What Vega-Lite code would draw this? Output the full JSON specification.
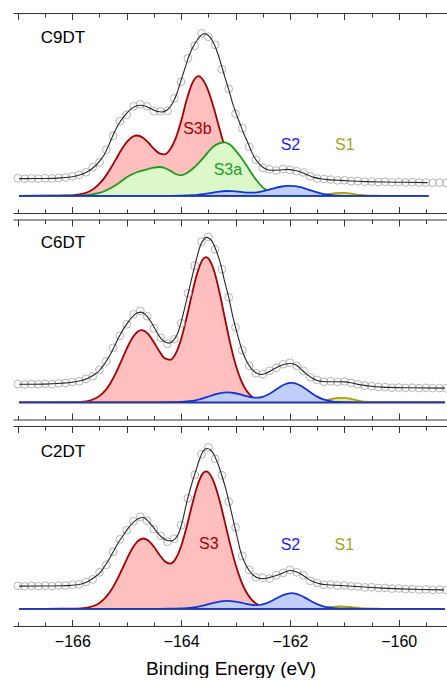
{
"$schema": "https://vega.github.io/schema/vega-lite/v6.json",
"padding": {"left": 12, "top": 12, "right": 0, "bottom": 0},
"bounds": "flush",
"spacing": 6.5,
"config": {
 "view": {"stroke": null},
 "axis": {"domainColor": "#333333", "domainWidth": 1.2, "tickColor": "#333333", "tickWidth": 1, "grid": false, "labelFont": "Liberation Sans", "labelFontSize": 16, "labelColor": "#000000", "titleFont": "Liberation Sans", "titleFontSize": 19, "titleFontWeight": "normal", "titleColor": "#000000"},
 "text": {"font": "Liberation Sans"}
},
"datasets": {
 "c9": [
  {"comp":"S3b","x":-166.98,"y":0},{"comp":"S3b","x":-166.5,"y":0.05},{"comp":"S3b","x":-166.2,"y":0.25},{"comp":"S3b","x":-166.0,"y":0.5},{"comp":"S3b","x":-165.9,"y":1.06},{"comp":"S3b","x":-165.8,"y":2.2},{"comp":"S3b","x":-165.7,"y":4.1},{"comp":"S3b","x":-165.6,"y":7.3},{"comp":"S3b","x":-165.5,"y":12.1},{"comp":"S3b","x":-165.4,"y":18.7},{"comp":"S3b","x":-165.3,"y":27.0},{"comp":"S3b","x":-165.2,"y":36.4},{"comp":"S3b","x":-165.1,"y":45.7},{"comp":"S3b","x":-165.0,"y":53.6},{"comp":"S3b","x":-164.9,"y":58.8},{"comp":"S3b","x":-164.82,"y":60.3},{"comp":"S3b","x":-164.7,"y":58.1},{"comp":"S3b","x":-164.6,"y":53.1},{"comp":"S3b","x":-164.5,"y":47.0},{"comp":"S3b","x":-164.4,"y":42.5},{"comp":"S3b","x":-164.3,"y":41.5},{"comp":"S3b","x":-164.2,"y":46.5},{"comp":"S3b","x":-164.1,"y":57.5},{"comp":"S3b","x":-164.0,"y":74.5},{"comp":"S3b","x":-163.9,"y":95.5},{"comp":"S3b","x":-163.8,"y":112.0},{"comp":"S3b","x":-163.68,"y":119.7},{"comp":"S3b","x":-163.6,"y":116.1},{"comp":"S3b","x":-163.5,"y":105.0},{"comp":"S3b","x":-163.4,"y":88.0},{"comp":"S3b","x":-163.3,"y":68.2},{"comp":"S3b","x":-163.2,"y":48.9},{"comp":"S3b","x":-163.1,"y":32.5},{"comp":"S3b","x":-163.0,"y":20.0},{"comp":"S3b","x":-162.9,"y":11.4},{"comp":"S3b","x":-162.8,"y":6.0},{"comp":"S3b","x":-162.7,"y":2.9},{"comp":"S3b","x":-162.6,"y":1.3},{"comp":"S3b","x":-162.5,"y":0.55},{"comp":"S3b","x":-162.4,"y":0.2},{"comp":"S3b","x":-162.2,"y":0},{"comp":"S3b","x":-159.45,"y":0},
  {"comp":"S3a","x":-166.98,"y":0},{"comp":"S3a","x":-166.0,"y":0.1},{"comp":"S3a","x":-165.8,"y":0.5},{"comp":"S3a","x":-165.7,"y":1.0},{"comp":"S3a","x":-165.6,"y":1.8},{"comp":"S3a","x":-165.5,"y":3.0},{"comp":"S3a","x":-165.4,"y":4.8},{"comp":"S3a","x":-165.3,"y":7.5},{"comp":"S3a","x":-165.2,"y":10.8},{"comp":"S3a","x":-165.1,"y":14.6},{"comp":"S3a","x":-165.0,"y":18.5},{"comp":"S3a","x":-164.9,"y":21.5},{"comp":"S3a","x":-164.8,"y":23.8},{"comp":"S3a","x":-164.7,"y":25.5},{"comp":"S3a","x":-164.6,"y":27.0},{"comp":"S3a","x":-164.5,"y":28.2},{"comp":"S3a","x":-164.4,"y":28.8},{"comp":"S3a","x":-164.3,"y":27.8},{"comp":"S3a","x":-164.2,"y":25.0},{"comp":"S3a","x":-164.1,"y":21.8},{"comp":"S3a","x":-164.0,"y":20.5},{"comp":"S3a","x":-163.9,"y":22.5},{"comp":"S3a","x":-163.8,"y":26.5},{"comp":"S3a","x":-163.7,"y":31.5},{"comp":"S3a","x":-163.6,"y":37.5},{"comp":"S3a","x":-163.5,"y":44.0},{"comp":"S3a","x":-163.4,"y":49.5},{"comp":"S3a","x":-163.3,"y":52.5},{"comp":"S3a","x":-163.2,"y":53.5},{"comp":"S3a","x":-163.1,"y":51.0},{"comp":"S3a","x":-163.0,"y":45.5},{"comp":"S3a","x":-162.9,"y":38.5},{"comp":"S3a","x":-162.8,"y":30.5},{"comp":"S3a","x":-162.7,"y":22.0},{"comp":"S3a","x":-162.6,"y":14.5},{"comp":"S3a","x":-162.5,"y":8.5},{"comp":"S3a","x":-162.4,"y":4.8},{"comp":"S3a","x":-162.3,"y":2.6},{"comp":"S3a","x":-162.2,"y":1.3},{"comp":"S3a","x":-162.1,"y":0.6},{"comp":"S3a","x":-162.0,"y":0.25},{"comp":"S3a","x":-161.8,"y":0},{"comp":"S3a","x":-159.45,"y":0},
  {"comp":"S1","x":-166.98,"y":0},{"comp":"S1","x":-162.8,"y":0},{"comp":"S1","x":-162.7,"y":0.15},{"comp":"S1","x":-162.6,"y":0.36},{"comp":"S1","x":-162.5,"y":0.7},{"comp":"S1","x":-162.4,"y":1.1},{"comp":"S1","x":-162.3,"y":1.42},{"comp":"S1","x":-162.2,"y":1.49},{"comp":"S1","x":-162.1,"y":1.26},{"comp":"S1","x":-162.0,"y":0.87},{"comp":"S1","x":-161.9,"y":0.5},{"comp":"S1","x":-161.8,"y":0.25},{"comp":"S1","x":-161.7,"y":0.14},{"comp":"S1","x":-161.6,"y":0.16},{"comp":"S1","x":-161.5,"y":0.37},{"comp":"S1","x":-161.4,"y":0.85},{"comp":"S1","x":-161.3,"y":1.57},{"comp":"S1","x":-161.2,"y":2.38},{"comp":"S1","x":-161.1,"y":2.92},{"comp":"S1","x":-161.05,"y":3.0},{"comp":"S1","x":-161.0,"y":2.92},{"comp":"S1","x":-160.9,"y":2.38},{"comp":"S1","x":-160.8,"y":1.57},{"comp":"S1","x":-160.7,"y":0.85},{"comp":"S1","x":-160.6,"y":0.37},{"comp":"S1","x":-160.5,"y":0.13},{"comp":"S1","x":-160.4,"y":0.04},{"comp":"S1","x":-160.2,"y":0},{"comp":"S1","x":-159.45,"y":0},
  {"comp":"S2","x":-166.98,"y":0},{"comp":"S2","x":-164.2,"y":0},{"comp":"S2","x":-164.0,"y":0.15},{"comp":"S2","x":-163.9,"y":0.3},{"comp":"S2","x":-163.8,"y":0.6},{"comp":"S2","x":-163.7,"y":1.0},{"comp":"S2","x":-163.6,"y":1.6},{"comp":"S2","x":-163.5,"y":2.4},{"comp":"S2","x":-163.4,"y":3.3},{"comp":"S2","x":-163.3,"y":4.2},{"comp":"S2","x":-163.17,"y":4.8},{"comp":"S2","x":-163.05,"y":4.6},{"comp":"S2","x":-162.95,"y":4.1},{"comp":"S2","x":-162.85,"y":3.5},{"comp":"S2","x":-162.75,"y":3.1},{"comp":"S2","x":-162.65,"y":3.2},{"comp":"S2","x":-162.55,"y":3.9},{"comp":"S2","x":-162.45,"y":5.1},{"comp":"S2","x":-162.35,"y":6.6},{"comp":"S2","x":-162.25,"y":8.1},{"comp":"S2","x":-162.15,"y":9.3},{"comp":"S2","x":-162.05,"y":9.9},{"comp":"S2","x":-161.99,"y":10.0},{"comp":"S2","x":-161.9,"y":9.7},{"comp":"S2","x":-161.8,"y":8.6},{"comp":"S2","x":-161.7,"y":7.0},{"comp":"S2","x":-161.6,"y":5.1},{"comp":"S2","x":-161.5,"y":3.4},{"comp":"S2","x":-161.4,"y":2.0},{"comp":"S2","x":-161.3,"y":1.1},{"comp":"S2","x":-161.2,"y":0.5},{"comp":"S2","x":-161.1,"y":0.2},{"comp":"S2","x":-160.9,"y":0},{"comp":"S2","x":-159.45,"y":0}
 ],
 "e9": [
  {"x":-166.98,"y":17.2},{"x":-166.5,"y":17.3},{"x":-166.2,"y":17.9},{"x":-166.0,"y":19.0},{"x":-165.85,"y":21.0},{"x":-165.7,"y":24.8},{"x":-165.6,"y":28.8},{"x":-165.5,"y":34.5},{"x":-165.42,"y":40.5},{"x":-165.33,"y":50.5},{"x":-165.24,"y":62.0},{"x":-165.15,"y":71.5},{"x":-165.05,"y":79.5},{"x":-164.95,"y":85.5},{"x":-164.85,"y":89.3},{"x":-164.74,"y":90.5},{"x":-164.65,"y":89.5},{"x":-164.56,"y":87.2},{"x":-164.45,"y":84.6},{"x":-164.35,"y":83.8},{"x":-164.25,"y":86.0},{"x":-164.16,"y":92.2},{"x":-164.08,"y":102.0},{"x":-164.01,"y":114.0},{"x":-163.93,"y":127.5},{"x":-163.86,"y":139.0},{"x":-163.78,"y":149.0},{"x":-163.7,"y":156.0},{"x":-163.64,"y":160.2},{"x":-163.58,"y":162.0},{"x":-163.51,"y":160.8},{"x":-163.43,"y":155.5},{"x":-163.35,"y":146.0},{"x":-163.27,"y":132.5},{"x":-163.2,"y":119.5},{"x":-163.12,"y":105.5},{"x":-163.05,"y":92.0},{"x":-162.97,"y":79.5},{"x":-162.91,"y":71.0},{"x":-162.85,"y":62.5},{"x":-162.78,"y":54.0},{"x":-162.72,"y":46.0},{"x":-162.66,"y":39.0},{"x":-162.58,"y":33.0},{"x":-162.51,"y":29.0},{"x":-162.43,"y":26.6},{"x":-162.35,"y":25.6},{"x":-162.2,"y":25.8},{"x":-162.05,"y":26.4},{"x":-161.93,"y":25.5},{"x":-161.8,"y":23.8},{"x":-161.68,"y":21.0},{"x":-161.56,"y":18.4},{"x":-161.43,"y":17.0},{"x":-161.31,"y":16.2},{"x":-161.1,"y":15.5},{"x":-160.88,"y":14.8},{"x":-160.6,"y":14.2},{"x":-160.27,"y":13.8},{"x":-159.9,"y":13.5},{"x":-159.47,"y":13.2}
 ],
 "p9": [
  {"x":-167.0,"y":17.5},{"x":-166.875,"y":17.0},{"x":-166.75,"y":17.4},{"x":-166.625,"y":17.1},{"x":-166.5,"y":17.6},{"x":-166.375,"y":17.3},{"x":-166.25,"y":17.9},{"x":-166.125,"y":18.2},{"x":-166.0,"y":19.4},{"x":-165.875,"y":21.0},{"x":-165.75,"y":23.5},{"x":-165.625,"y":28.6},{"x":-165.5,"y":33.5},{"x":-165.375,"y":46.0},{"x":-165.25,"y":60.0},{"x":-165.125,"y":74.5},{"x":-165.0,"y":81.0},{"x":-164.875,"y":89.5},{"x":-164.75,"y":91.5},{"x":-164.625,"y":89.5},{"x":-164.5,"y":84.5},{"x":-164.375,"y":84.5},{"x":-164.25,"y":85.0},{"x":-164.125,"y":97.5},{"x":-164.0,"y":114.0},{"x":-163.875,"y":137.5},{"x":-163.75,"y":150.0},{"x":-163.625,"y":162.5},{"x":-163.5,"y":159.0},{"x":-163.375,"y":151.0},{"x":-163.25,"y":126.5},{"x":-163.125,"y":107.0},{"x":-163.0,"y":82.0},{"x":-162.875,"y":67.5},{"x":-162.75,"y":49.0},{"x":-162.625,"y":36.0},{"x":-162.5,"y":28.0},{"x":-162.375,"y":26.5},{"x":-162.25,"y":25.3},{"x":-162.125,"y":26.8},{"x":-162.0,"y":26.0},{"x":-161.875,"y":24.6},{"x":-161.75,"y":23.3},{"x":-161.625,"y":19.5},{"x":-161.5,"y":17.3},{"x":-161.375,"y":16.8},{"x":-161.25,"y":16.2},{"x":-161.125,"y":15.4},{"x":-161.0,"y":15.5},{"x":-160.875,"y":14.6},{"x":-160.75,"y":14.7},{"x":-160.625,"y":14.1},{"x":-160.5,"y":14.3},{"x":-160.375,"y":13.7},{"x":-160.25,"y":13.9},{"x":-160.125,"y":13.5},{"x":-160.0,"y":13.7},{"x":-159.875,"y":13.4},{"x":-159.75,"y":13.6},{"x":-159.625,"y":13.2},{"x":-159.5,"y":13.3},{"x":-159.375,"y":13.0},{"x":-159.25,"y":13.2},{"x":-159.125,"y":12.9}
 ],
 "c6": [
  {"comp":"S3","x":-166.98,"y":0},{"comp":"S3","x":-166.5,"y":0.01},{"comp":"S3","x":-166.2,"y":0.03},{"comp":"S3","x":-166.0,"y":0.1},{"comp":"S3","x":-165.9,"y":0.27},{"comp":"S3","x":-165.8,"y":0.67},{"comp":"S3","x":-165.7,"y":1.55},{"comp":"S3","x":-165.6,"y":3.3},{"comp":"S3","x":-165.5,"y":6.4},{"comp":"S3","x":-165.4,"y":11.5},{"comp":"S3","x":-165.3,"y":19.1},{"comp":"S3","x":-165.2,"y":29.2},{"comp":"S3","x":-165.1,"y":41.2},{"comp":"S3","x":-165.0,"y":53.5},{"comp":"S3","x":-164.9,"y":64.0},{"comp":"S3","x":-164.8,"y":70.6},{"comp":"S3","x":-164.73,"y":72.2},{"comp":"S3","x":-164.6,"y":68.0},{"comp":"S3","x":-164.5,"y":60.1},{"comp":"S3","x":-164.4,"y":51.1},{"comp":"S3","x":-164.3,"y":44.0},{"comp":"S3","x":-164.2,"y":42.5},{"comp":"S3","x":-164.1,"y":48.7},{"comp":"S3","x":-164.0,"y":63.1},{"comp":"S3","x":-163.9,"y":84.3},{"comp":"S3","x":-163.8,"y":108.4},{"comp":"S3","x":-163.7,"y":129.8},{"comp":"S3","x":-163.6,"y":143.0},{"comp":"S3","x":-163.54,"y":145.2},{"comp":"S3","x":-163.5,"y":143.9},{"comp":"S3","x":-163.4,"y":132.5},{"comp":"S3","x":-163.3,"y":111.3},{"comp":"S3","x":-163.2,"y":85.3},{"comp":"S3","x":-163.1,"y":59.6},{"comp":"S3","x":-163.0,"y":38.0},{"comp":"S3","x":-162.9,"y":22.1},{"comp":"S3","x":-162.8,"y":11.7},{"comp":"S3","x":-162.7,"y":5.7},{"comp":"S3","x":-162.6,"y":2.5},{"comp":"S3","x":-162.5,"y":1.0},{"comp":"S3","x":-162.4,"y":0.37},{"comp":"S3","x":-162.2,"y":0.03},{"comp":"S3","x":-162.0,"y":0},{"comp":"S3","x":-159.15,"y":0},
  {"comp":"S1","x":-166.98,"y":0},{"comp":"S1","x":-162.8,"y":0},{"comp":"S1","x":-162.7,"y":0.22},{"comp":"S1","x":-162.6,"y":0.53},{"comp":"S1","x":-162.5,"y":1.04},{"comp":"S1","x":-162.4,"y":1.63},{"comp":"S1","x":-162.3,"y":2.09},{"comp":"S1","x":-162.2,"y":2.18},{"comp":"S1","x":-162.1,"y":1.85},{"comp":"S1","x":-162.0,"y":1.27},{"comp":"S1","x":-161.9,"y":0.71},{"comp":"S1","x":-161.8,"y":0.34},{"comp":"S1","x":-161.7,"y":0.18},{"comp":"S1","x":-161.6,"y":0.24},{"comp":"S1","x":-161.5,"y":0.56},{"comp":"S1","x":-161.4,"y":1.27},{"comp":"S1","x":-161.3,"y":2.36},{"comp":"S1","x":-161.2,"y":3.57},{"comp":"S1","x":-161.1,"y":4.39},{"comp":"S1","x":-161.05,"y":4.5},{"comp":"S1","x":-161.0,"y":4.39},{"comp":"S1","x":-160.9,"y":3.57},{"comp":"S1","x":-160.8,"y":2.36},{"comp":"S1","x":-160.7,"y":1.27},{"comp":"S1","x":-160.6,"y":0.56},{"comp":"S1","x":-160.5,"y":0.2},{"comp":"S1","x":-160.4,"y":0.06},{"comp":"S1","x":-160.2,"y":0},{"comp":"S1","x":-159.15,"y":0},
  {"comp":"S2","x":-166.98,"y":0},{"comp":"S2","x":-164.4,"y":0},{"comp":"S2","x":-164.2,"y":0.06},{"comp":"S2","x":-164.0,"y":0.4},{"comp":"S2","x":-163.9,"y":0.8},{"comp":"S2","x":-163.8,"y":1.4},{"comp":"S2","x":-163.7,"y":2.5},{"comp":"S2","x":-163.6,"y":3.9},{"comp":"S2","x":-163.5,"y":5.7},{"comp":"S2","x":-163.4,"y":7.5},{"comp":"S2","x":-163.3,"y":9.0},{"comp":"S2","x":-163.15,"y":10.0},{"comp":"S2","x":-163.0,"y":9.05},{"comp":"S2","x":-162.9,"y":7.7},{"comp":"S2","x":-162.8,"y":6.1},{"comp":"S2","x":-162.7,"y":4.9},{"comp":"S2","x":-162.6,"y":4.65},{"comp":"S2","x":-162.5,"y":5.5},{"comp":"S2","x":-162.4,"y":7.8},{"comp":"S2","x":-162.3,"y":11.0},{"comp":"S2","x":-162.2,"y":14.7},{"comp":"S2","x":-162.1,"y":17.8},{"comp":"S2","x":-162.0,"y":19.4},{"comp":"S2","x":-161.97,"y":19.5},{"comp":"S2","x":-161.9,"y":19.0},{"comp":"S2","x":-161.8,"y":16.6},{"comp":"S2","x":-161.7,"y":13.0},{"comp":"S2","x":-161.6,"y":9.1},{"comp":"S2","x":-161.5,"y":5.7},{"comp":"S2","x":-161.4,"y":3.2},{"comp":"S2","x":-161.3,"y":1.6},{"comp":"S2","x":-161.2,"y":0.7},{"comp":"S2","x":-161.1,"y":0.3},{"comp":"S2","x":-160.9,"y":0.04},{"comp":"S2","x":-160.7,"y":0},{"comp":"S2","x":-159.15,"y":0}
 ],
 "e6": [
  {"x":-166.98,"y":18.0},{"x":-166.5,"y":18.2},{"x":-166.2,"y":19.0},{"x":-166.0,"y":20.0},{"x":-165.85,"y":21.5},{"x":-165.72,"y":23.8},{"x":-165.6,"y":27.5},{"x":-165.5,"y":31.8},{"x":-165.42,"y":37.5},{"x":-165.33,"y":45.0},{"x":-165.24,"y":54.2},{"x":-165.15,"y":64.5},{"x":-165.05,"y":74.2},{"x":-164.95,"y":82.0},{"x":-164.87,"y":87.0},{"x":-164.8,"y":89.5},{"x":-164.73,"y":90.2},{"x":-164.65,"y":87.5},{"x":-164.56,"y":81.0},{"x":-164.47,"y":72.5},{"x":-164.38,"y":64.5},{"x":-164.3,"y":60.5},{"x":-164.22,"y":59.2},{"x":-164.15,"y":61.5},{"x":-164.07,"y":68.0},{"x":-164.0,"y":80.0},{"x":-163.92,"y":97.5},{"x":-163.84,"y":116.0},{"x":-163.76,"y":134.0},{"x":-163.7,"y":147.0},{"x":-163.64,"y":157.5},{"x":-163.59,"y":162.5},{"x":-163.54,"y":164.9},{"x":-163.48,"y":163.8},{"x":-163.43,"y":160.9},{"x":-163.35,"y":151.0},{"x":-163.27,"y":137.5},{"x":-163.2,"y":121.0},{"x":-163.12,"y":104.0},{"x":-163.05,"y":86.0},{"x":-162.97,"y":69.0},{"x":-162.88,"y":52.0},{"x":-162.8,"y":41.5},{"x":-162.72,"y":34.5},{"x":-162.63,"y":29.8},{"x":-162.53,"y":27.8},{"x":-162.43,"y":29.3},{"x":-162.32,"y":32.5},{"x":-162.2,"y":36.0},{"x":-162.08,"y":38.3},{"x":-161.98,"y":38.8},{"x":-161.88,"y":37.0},{"x":-161.8,"y":33.5},{"x":-161.71,"y":28.9},{"x":-161.6,"y":24.5},{"x":-161.5,"y":21.8},{"x":-161.4,"y":20.8},{"x":-161.25,"y":20.5},{"x":-161.1,"y":20.6},{"x":-161.0,"y":20.4},{"x":-160.88,"y":19.5},{"x":-160.77,"y":18.2},{"x":-160.66,"y":17.2},{"x":-160.5,"y":16.0},{"x":-160.3,"y":15.2},{"x":-160.17,"y":14.9},{"x":-159.8,"y":14.5},{"x":-159.15,"y":14.2}
 ],
 "p6": [
  {"x":-167.0,"y":18.2},{"x":-166.875,"y":17.8},{"x":-166.75,"y":18.3},{"x":-166.625,"y":18.0},{"x":-166.5,"y":18.5},{"x":-166.375,"y":18.2},{"x":-166.25,"y":19.0},{"x":-166.125,"y":19.3},{"x":-166.0,"y":20.3},{"x":-165.875,"y":21.0},{"x":-165.75,"y":23.5},{"x":-165.625,"y":26.0},{"x":-165.5,"y":32.5},{"x":-165.375,"y":41.0},{"x":-165.25,"y":54.5},{"x":-165.125,"y":66.5},{"x":-165.0,"y":78.0},{"x":-164.875,"y":88.0},{"x":-164.75,"y":91.5},{"x":-164.625,"y":86.0},{"x":-164.5,"y":74.0},{"x":-164.375,"y":64.5},{"x":-164.25,"y":58.5},{"x":-164.125,"y":63.0},{"x":-164.0,"y":79.0},{"x":-163.875,"y":109.0},{"x":-163.75,"y":136.5},{"x":-163.625,"y":160.5},{"x":-163.5,"y":165.5},{"x":-163.375,"y":153.0},{"x":-163.25,"y":133.0},{"x":-163.125,"y":105.0},{"x":-163.0,"y":75.0},{"x":-162.875,"y":52.0},{"x":-162.75,"y":36.5},{"x":-162.625,"y":29.0},{"x":-162.5,"y":28.0},{"x":-162.375,"y":31.5},{"x":-162.25,"y":34.5},{"x":-162.125,"y":38.0},{"x":-162.0,"y":39.5},{"x":-161.875,"y":36.5},{"x":-161.75,"y":31.5},{"x":-161.625,"y":25.0},{"x":-161.5,"y":22.3},{"x":-161.375,"y":20.5},{"x":-161.25,"y":20.9},{"x":-161.125,"y":20.4},{"x":-161.0,"y":20.8},{"x":-160.875,"y":19.3},{"x":-160.75,"y":18.0},{"x":-160.625,"y":16.6},{"x":-160.5,"y":16.2},{"x":-160.375,"y":15.3},{"x":-160.25,"y":15.2},{"x":-160.125,"y":14.6},{"x":-160.0,"y":14.8},{"x":-159.875,"y":14.4},{"x":-159.75,"y":14.6},{"x":-159.625,"y":14.2},{"x":-159.5,"y":14.5},{"x":-159.375,"y":14.1},{"x":-159.25,"y":14.3},{"x":-159.125,"y":14.0}
 ],
 "c2": [
  {"comp":"S3","x":-166.98,"y":0},{"comp":"S3","x":-166.5,"y":0.01},{"comp":"S3","x":-166.2,"y":0.03},{"comp":"S3","x":-166.0,"y":0.1},{"comp":"S3","x":-165.9,"y":0.27},{"comp":"S3","x":-165.8,"y":0.66},{"comp":"S3","x":-165.7,"y":1.48},{"comp":"S3","x":-165.6,"y":3.07},{"comp":"S3","x":-165.5,"y":5.9},{"comp":"S3","x":-165.4,"y":10.6},{"comp":"S3","x":-165.3,"y":17.5},{"comp":"S3","x":-165.2,"y":26.7},{"comp":"S3","x":-165.1,"y":37.8},{"comp":"S3","x":-165.0,"y":49.5},{"comp":"S3","x":-164.9,"y":60.0},{"comp":"S3","x":-164.8,"y":67.4},{"comp":"S3","x":-164.7,"y":70.3},{"comp":"S3","x":-164.6,"y":68.1},{"comp":"S3","x":-164.5,"y":62.0},{"comp":"S3","x":-164.4,"y":54.1},{"comp":"S3","x":-164.3,"y":47.5},{"comp":"S3","x":-164.2,"y":45.2},{"comp":"S3","x":-164.1,"y":50.0},{"comp":"S3","x":-164.0,"y":62.5},{"comp":"S3","x":-163.9,"y":81.5},{"comp":"S3","x":-163.8,"y":103.5},{"comp":"S3","x":-163.7,"y":123.3},{"comp":"S3","x":-163.6,"y":135.5},{"comp":"S3","x":-163.54,"y":137.4},{"comp":"S3","x":-163.5,"y":136.4},{"comp":"S3","x":-163.4,"y":127.0},{"comp":"S3","x":-163.3,"y":109.7},{"comp":"S3","x":-163.2,"y":87.7},{"comp":"S3","x":-163.1,"y":64.9},{"comp":"S3","x":-163.0,"y":44.5},{"comp":"S3","x":-162.9,"y":28.2},{"comp":"S3","x":-162.8,"y":16.6},{"comp":"S3","x":-162.7,"y":9.0},{"comp":"S3","x":-162.6,"y":4.5},{"comp":"S3","x":-162.5,"y":2.1},{"comp":"S3","x":-162.4,"y":0.9},{"comp":"S3","x":-162.3,"y":0.36},{"comp":"S3","x":-162.1,"y":0.05},{"comp":"S3","x":-161.9,"y":0},{"comp":"S3","x":-159.15,"y":0},
  {"comp":"S1","x":-166.98,"y":0},{"comp":"S1","x":-162.9,"y":0},{"comp":"S1","x":-162.8,"y":0.05},{"comp":"S1","x":-162.7,"y":0.2},{"comp":"S1","x":-162.6,"y":0.45},{"comp":"S1","x":-162.5,"y":0.73},{"comp":"S1","x":-162.4,"y":0.98},{"comp":"S1","x":-162.3,"y":1.14},{"comp":"S1","x":-162.2,"y":1.12},{"comp":"S1","x":-162.1,"y":0.94},{"comp":"S1","x":-162.0,"y":0.67},{"comp":"S1","x":-161.9,"y":0.4},{"comp":"S1","x":-161.8,"y":0.22},{"comp":"S1","x":-161.7,"y":0.12},{"comp":"S1","x":-161.6,"y":0.17},{"comp":"S1","x":-161.5,"y":0.4},{"comp":"S1","x":-161.4,"y":0.82},{"comp":"S1","x":-161.3,"y":1.4},{"comp":"S1","x":-161.2,"y":1.95},{"comp":"S1","x":-161.08,"y":2.3},{"comp":"S1","x":-161.0,"y":2.2},{"comp":"S1","x":-160.9,"y":1.8},{"comp":"S1","x":-160.8,"y":1.25},{"comp":"S1","x":-160.7,"y":0.72},{"comp":"S1","x":-160.6,"y":0.36},{"comp":"S1","x":-160.5,"y":0.15},{"comp":"S1","x":-160.4,"y":0.05},{"comp":"S1","x":-160.2,"y":0},{"comp":"S1","x":-159.15,"y":0},
  {"comp":"S2","x":-166.98,"y":0},{"comp":"S2","x":-164.4,"y":0},{"comp":"S2","x":-164.2,"y":0.05},{"comp":"S2","x":-164.0,"y":0.3},{"comp":"S2","x":-163.9,"y":0.6},{"comp":"S2","x":-163.8,"y":1.1},{"comp":"S2","x":-163.7,"y":2.0},{"comp":"S2","x":-163.6,"y":3.1},{"comp":"S2","x":-163.5,"y":4.6},{"comp":"S2","x":-163.4,"y":6.0},{"comp":"S2","x":-163.3,"y":7.2},{"comp":"S2","x":-163.15,"y":8.0},{"comp":"S2","x":-163.0,"y":7.2},{"comp":"S2","x":-162.9,"y":6.2},{"comp":"S2","x":-162.8,"y":4.9},{"comp":"S2","x":-162.7,"y":3.9},{"comp":"S2","x":-162.6,"y":3.7},{"comp":"S2","x":-162.5,"y":4.4},{"comp":"S2","x":-162.4,"y":6.2},{"comp":"S2","x":-162.3,"y":8.8},{"comp":"S2","x":-162.2,"y":11.8},{"comp":"S2","x":-162.1,"y":14.2},{"comp":"S2","x":-162.0,"y":15.5},{"comp":"S2","x":-161.97,"y":15.6},{"comp":"S2","x":-161.9,"y":15.2},{"comp":"S2","x":-161.8,"y":13.3},{"comp":"S2","x":-161.7,"y":10.4},{"comp":"S2","x":-161.6,"y":7.3},{"comp":"S2","x":-161.5,"y":4.6},{"comp":"S2","x":-161.4,"y":2.6},{"comp":"S2","x":-161.3,"y":1.3},{"comp":"S2","x":-161.2,"y":0.6},{"comp":"S2","x":-161.1,"y":0.24},{"comp":"S2","x":-160.9,"y":0.03},{"comp":"S2","x":-160.7,"y":0},{"comp":"S2","x":-159.15,"y":0}
 ],
 "e2": [
  {"x":-166.98,"y":22.7},{"x":-166.5,"y":22.8},{"x":-166.2,"y":23.0},{"x":-166.0,"y":23.6},{"x":-165.85,"y":24.6},{"x":-165.72,"y":27.0},{"x":-165.6,"y":31.3},{"x":-165.5,"y":35.5},{"x":-165.42,"y":41.3},{"x":-165.33,"y":49.0},{"x":-165.24,"y":57.9},{"x":-165.15,"y":66.5},{"x":-165.05,"y":74.6},{"x":-164.96,"y":81.5},{"x":-164.87,"y":86.9},{"x":-164.78,"y":90.3},{"x":-164.7,"y":91.3},{"x":-164.62,"y":88.5},{"x":-164.53,"y":82.9},{"x":-164.44,"y":76.5},{"x":-164.35,"y":71.3},{"x":-164.27,"y":68.5},{"x":-164.19,"y":67.9},{"x":-164.11,"y":70.0},{"x":-164.04,"y":76.0},{"x":-163.96,"y":91.0},{"x":-163.89,"y":107.9},{"x":-163.81,"y":124.0},{"x":-163.73,"y":137.9},{"x":-163.67,"y":148.0},{"x":-163.61,"y":156.3},{"x":-163.56,"y":159.5},{"x":-163.52,"y":160.3},{"x":-163.46,"y":158.8},{"x":-163.4,"y":154.6},{"x":-163.32,"y":144.5},{"x":-163.24,"y":131.3},{"x":-163.16,"y":116.0},{"x":-163.09,"y":100.0},{"x":-163.03,"y":86.0},{"x":-162.97,"y":72.0},{"x":-162.91,"y":58.0},{"x":-162.83,"y":46.0},{"x":-162.75,"y":38.3},{"x":-162.66,"y":33.0},{"x":-162.57,"y":30.6},{"x":-162.5,"y":30.2},{"x":-162.42,"y":30.6},{"x":-162.3,"y":32.5},{"x":-162.17,"y":34.9},{"x":-162.08,"y":37.0},{"x":-161.99,"y":38.3},{"x":-161.9,"y":37.3},{"x":-161.8,"y":34.9},{"x":-161.71,"y":31.5},{"x":-161.62,"y":28.3},{"x":-161.53,"y":26.2},{"x":-161.44,"y":24.9},{"x":-161.3,"y":24.0},{"x":-161.15,"y":23.5},{"x":-161.0,"y":23.1},{"x":-160.8,"y":22.4},{"x":-160.58,"y":21.6},{"x":-160.3,"y":20.7},{"x":-159.97,"y":19.9},{"x":-159.6,"y":19.3},{"x":-159.17,"y":18.9}
 ],
 "p2": [
  {"x":-167.0,"y":22.9},{"x":-166.875,"y":22.5},{"x":-166.75,"y":23.0},{"x":-166.625,"y":22.6},{"x":-166.5,"y":23.1},{"x":-166.375,"y":22.7},{"x":-166.25,"y":23.3},{"x":-166.125,"y":23.2},{"x":-166.0,"y":24.0},{"x":-165.875,"y":24.3},{"x":-165.75,"y":26.8},{"x":-165.625,"y":29.5},{"x":-165.5,"y":36.5},{"x":-165.375,"y":44.0},{"x":-165.25,"y":57.0},{"x":-165.125,"y":69.5},{"x":-165.0,"y":78.5},{"x":-164.875,"y":87.5},{"x":-164.75,"y":92.0},{"x":-164.625,"y":88.0},{"x":-164.5,"y":79.5},{"x":-164.375,"y":73.0},{"x":-164.25,"y":67.0},{"x":-164.125,"y":70.0},{"x":-164.0,"y":83.5},{"x":-163.875,"y":110.5},{"x":-163.75,"y":134.0},{"x":-163.625,"y":154.5},{"x":-163.5,"y":161.5},{"x":-163.375,"y":150.0},{"x":-163.25,"y":133.5},{"x":-163.125,"y":107.0},{"x":-163.0,"y":81.5},{"x":-162.875,"y":53.0},{"x":-162.75,"y":39.0},{"x":-162.625,"y":31.5},{"x":-162.5,"y":31.0},{"x":-162.375,"y":30.2},{"x":-162.25,"y":33.5},{"x":-162.125,"y":36.0},{"x":-162.0,"y":38.8},{"x":-161.875,"y":36.5},{"x":-161.75,"y":33.5},{"x":-161.625,"y":28.0},{"x":-161.5,"y":25.8},{"x":-161.375,"y":24.0},{"x":-161.25,"y":24.2},{"x":-161.125,"y":23.2},{"x":-161.0,"y":23.4},{"x":-160.875,"y":22.5},{"x":-160.75,"y":22.3},{"x":-160.625,"y":21.4},{"x":-160.5,"y":21.6},{"x":-160.375,"y":20.8},{"x":-160.25,"y":20.9},{"x":-160.125,"y":20.2},{"x":-160.0,"y":20.3},{"x":-159.875,"y":19.6},{"x":-159.75,"y":19.8},{"x":-159.625,"y":19.2},{"x":-159.5,"y":19.4},{"x":-159.375,"y":18.9},{"x":-159.25,"y":19.2},{"x":-159.125,"y":18.8}
 ],
 "lab": [
  {"panel":"C9DT","comp":"name","text":"C9DT","x":-166.58,"y":157.5},
  {"panel":"C9DT","comp":"S3b","text":"S3b","x":-163.7,"y":67.2},
  {"panel":"C9DT","comp":"S3a","text":"S3a","x":-163.14,"y":26.2},
  {"panel":"C9DT","comp":"S2","text":"S2","x":-161.99,"y":50.5},
  {"panel":"C9DT","comp":"S1","text":"S1","x":-160.99,"y":50.5},
  {"panel":"C6DT","comp":"name","text":"C6DT","x":-166.58,"y":158.9},
  {"panel":"C2DT","comp":"name","text":"C2DT","x":-166.58,"y":156.6},
  {"panel":"C2DT","comp":"S3","text":"S3","x":-163.49,"y":64.6},
  {"panel":"C2DT","comp":"S2","text":"S2","x":-161.99,"y":63.9},
  {"panel":"C2DT","comp":"S1","text":"S1","x":-161.0,"y":63.9}
 ]
},
"vconcat": [
 {
  "width": 435, "height": 200,
  "resolve": {"axis": {"x": "independent"}},
  "layer": [
   {"data": {"name": "c9"}, "transform": [{"filter": "datum.comp === 'S3b'"}],
    "mark": {"type": "area", "interpolate": "monotone", "strokeWidth": 1.8},
    "encoding": {
     "x": {"field": "x", "type": "quantitative", "scale": {"domain": [-167.09, -159.094], "nice": false, "zero": false}, "axis": {"orient": "bottom", "values": [-166, -164, -162, -160], "tickSize": -6.5, "labels": false, "title": null, "domain": true}},
     "y": {"field": "y", "type": "quantitative", "stack": null, "scale": {"domain": [-17.2, 182.8], "nice": false, "zero": false}, "axis": {"orient": "left", "domain": true, "ticks": false, "labels": false, "title": null}},
     "y2": {"datum": 0},
     "fill": {"field": "comp", "type": "nominal", "scale": {"domain": ["S3b","S3","S3a","S2","S1"], "range": ["#FFBFBF","#FFBFBF","#DCF8C8","#C2CEFA","#E9E5A6"]}, "legend": null},
     "stroke": {"field": "comp", "type": "nominal", "scale": {"domain": ["S3b","S3","S3a","S2","S1"], "range": ["#A40000","#A40000","#1E9A1E","#1436CC","#A8A000"]}, "legend": null}
    }},
   {"data": {"name": "c9"}, "transform": [{"filter": "datum.comp === 'S3a'"}],
    "mark": {"type": "area", "interpolate": "monotone", "strokeWidth": 1.8},
    "encoding": {
     "x": {"field": "x", "type": "quantitative", "scale": {"domain": [-167.09, -159.094], "nice": false, "zero": false}, "axis": {"orient": "bottom", "values": [-167,-166.5,-166,-165.5,-165,-164.5,-164,-163.5,-163,-162.5,-162,-161.5,-161,-160.5,-160,-159.5], "tickSize": -4, "labels": false, "title": null, "domain": false}},
     "y": {"field": "y", "type": "quantitative", "stack": null, "scale": {"domain": [-17.2, 182.8], "nice": false, "zero": false}, "axis": null},
     "y2": {"datum": 0},
     "fill": {"field": "comp", "type": "nominal", "scale": {"domain": ["S3b","S3","S3a","S2","S1"], "range": ["#FFBFBF","#FFBFBF","#DCF8C8","#C2CEFA","#E9E5A6"]}, "legend": null},
     "stroke": {"field": "comp", "type": "nominal", "scale": {"domain": ["S3b","S3","S3a","S2","S1"], "range": ["#A40000","#A40000","#1E9A1E","#1436CC","#A8A000"]}, "legend": null}
    }},
   {"data": {"name": "c9"}, "transform": [{"filter": "datum.comp === 'S1'"}],
    "mark": {"type": "area", "interpolate": "monotone", "strokeWidth": 1.8},
    "encoding": {
     "x": {"field": "x", "type": "quantitative", "scale": {"domain": [-167.09, -159.094], "nice": false, "zero": false}, "axis": {"orient": "top", "values": [-167,-166.5,-166,-165.5,-165,-164.5,-164,-163.5,-163,-162.5,-162,-161.5,-161,-160.5,-160,-159.5], "tickSize": -4, "labels": false, "title": null, "domain": false}},
     "y": {"field": "y", "type": "quantitative", "stack": null, "scale": {"domain": [-17.2, 182.8], "nice": false, "zero": false}, "axis": null},
     "y2": {"datum": 0},
     "fill": {"field": "comp", "type": "nominal", "scale": {"domain": ["S3b","S3","S3a","S2","S1"], "range": ["#FFBFBF","#FFBFBF","#DCF8C8","#C2CEFA","#E9E5A6"]}, "legend": null},
     "stroke": {"field": "comp", "type": "nominal", "scale": {"domain": ["S3b","S3","S3a","S2","S1"], "range": ["#A40000","#A40000","#1E9A1E","#1436CC","#A8A000"]}, "legend": null}
    }},
   {"data": {"name": "c9"}, "transform": [{"filter": "datum.comp === 'S2'"}],
    "mark": {"type": "area", "interpolate": "monotone", "strokeWidth": 1.8},
    "encoding": {
     "x": {"field": "x", "type": "quantitative", "scale": {"domain": [-167.09, -159.094], "nice": false, "zero": false}, "axis": {"orient": "top", "values": [-167,-166,-165,-164,-163,-162,-161,-160], "tickSize": -6.5, "labels": false, "title": null, "domain": true}},
     "y": {"field": "y", "type": "quantitative", "stack": null, "scale": {"domain": [-17.2, 182.8], "nice": false, "zero": false}, "axis": null},
     "y2": {"datum": 0},
     "fill": {"field": "comp", "type": "nominal", "scale": {"domain": ["S3b","S3","S3a","S2","S1"], "range": ["#FFBFBF","#FFBFBF","#DCF8C8","#C2CEFA","#E9E5A6"]}, "legend": null},
     "stroke": {"field": "comp", "type": "nominal", "scale": {"domain": ["S3b","S3","S3a","S2","S1"], "range": ["#A40000","#A40000","#1E9A1E","#1436CC","#A8A000"]}, "legend": null}
    }},
   {"data": {"name": "p9"},
    "mark": {"type": "point", "shape": "circle", "filled": false, "size": 60, "color": "#ABABAB", "strokeWidth": 0.9, "opacity": 1},
    "encoding": {
     "x": {"field": "x", "type": "quantitative", "scale": {"domain": [-167.09, -159.094], "nice": false, "zero": false}, "axis": null},
     "y": {"field": "y", "type": "quantitative", "scale": {"domain": [-17.2, 182.8], "nice": false, "zero": false}, "axis": null}
    }},
   {"data": {"name": "e9"},
    "mark": {"type": "line", "interpolate": "monotone", "color": "#262626", "strokeWidth": 1.1},
    "encoding": {
     "x": {"field": "x", "type": "quantitative", "scale": {"domain": [-167.09, -159.094], "nice": false, "zero": false}, "axis": null},
     "y": {"field": "y", "type": "quantitative", "scale": {"domain": [-17.2, 182.8], "nice": false, "zero": false}, "axis": null}
    }},
   {"data": {"name": "lab"}, "transform": [{"filter": "datum.panel === 'C9DT' && datum.comp !== 'name'"}],
    "mark": {"type": "text", "fontSize": 16, "align": "center", "baseline": "middle"},
    "encoding": {
     "x": {"field": "x", "type": "quantitative", "scale": {"domain": [-167.09, -159.094], "nice": false, "zero": false}, "axis": null},
     "y": {"field": "y", "type": "quantitative", "scale": {"domain": [-17.2, 182.8], "nice": false, "zero": false}, "axis": null},
     "text": {"field": "text"},
     "color": {"field": "comp", "type": "nominal", "scale": {"domain": ["S3b","S3","S3a","S2","S1"], "range": ["#A40000","#A40000","#20A020","#1A1AE6","#A8A11E"]}, "legend": null}
    }},
   {"data": {"name": "lab"}, "transform": [{"filter": "datum.panel === 'C9DT' && datum.comp === 'name'"}],
    "mark": {"type": "text", "fontSize": 17, "align": "left", "baseline": "middle", "color": "#000000"},
    "encoding": {
     "x": {"field": "x", "type": "quantitative", "scale": {"domain": [-167.09, -159.094], "nice": false, "zero": false}, "axis": null},
     "y": {"field": "y", "type": "quantitative", "scale": {"domain": [-17.2, 182.8], "nice": false, "zero": false}, "axis": null},
     "text": {"field": "text"}
    }}
  ]
 },
 {
  "width": 435, "height": 200,
  "resolve": {"axis": {"x": "independent"}},
  "layer": [
   {"data": {"name": "c6"}, "transform": [{"filter": "datum.comp === 'S3'"}],
    "mark": {"type": "area", "interpolate": "monotone", "strokeWidth": 1.8},
    "encoding": {
     "x": {"field": "x", "type": "quantitative", "scale": {"domain": [-167.09, -159.094], "nice": false, "zero": false}, "axis": {"orient": "bottom", "values": [-166, -164, -162, -160], "tickSize": -6.5, "labels": false, "title": null, "domain": true}},
     "y": {"field": "y", "type": "quantitative", "stack": null, "scale": {"domain": [-17.2, 182.8], "nice": false, "zero": false}, "axis": {"orient": "left", "domain": true, "ticks": false, "labels": false, "title": null}},
     "y2": {"datum": 0},
     "fill": {"field": "comp", "type": "nominal", "scale": {"domain": ["S3b","S3","S3a","S2","S1"], "range": ["#FFBFBF","#FFBFBF","#DCF8C8","#C2CEFA","#E9E5A6"]}, "legend": null},
     "stroke": {"field": "comp", "type": "nominal", "scale": {"domain": ["S3b","S3","S3a","S2","S1"], "range": ["#A40000","#A40000","#1E9A1E","#1436CC","#A8A000"]}, "legend": null}
    }},
   {"data": {"name": "c6"}, "transform": [{"filter": "datum.comp === 'S1'"}],
    "mark": {"type": "area", "interpolate": "monotone", "strokeWidth": 1.8},
    "encoding": {
     "x": {"field": "x", "type": "quantitative", "scale": {"domain": [-167.09, -159.094], "nice": false, "zero": false}, "axis": {"orient": "bottom", "values": [-167,-166.5,-166,-165.5,-165,-164.5,-164,-163.5,-163,-162.5,-162,-161.5,-161,-160.5,-160,-159.5], "tickSize": -4, "labels": false, "title": null, "domain": false}},
     "y": {"field": "y", "type": "quantitative", "stack": null, "scale": {"domain": [-17.2, 182.8], "nice": false, "zero": false}, "axis": null},
     "y2": {"datum": 0},
     "fill": {"field": "comp", "type": "nominal", "scale": {"domain": ["S3b","S3","S3a","S2","S1"], "range": ["#FFBFBF","#FFBFBF","#DCF8C8","#C2CEFA","#E9E5A6"]}, "legend": null},
     "stroke": {"field": "comp", "type": "nominal", "scale": {"domain": ["S3b","S3","S3a","S2","S1"], "range": ["#A40000","#A40000","#1E9A1E","#1436CC","#A8A000"]}, "legend": null}
    }},
   {"data": {"name": "c6"}, "transform": [{"filter": "datum.comp === 'S2'"}],
    "mark": {"type": "area", "interpolate": "monotone", "strokeWidth": 1.8},
    "encoding": {
     "x": {"field": "x", "type": "quantitative", "scale": {"domain": [-167.09, -159.094], "nice": false, "zero": false}, "axis": {"orient": "top", "values": [-167,-166.5,-166,-165.5,-165,-164.5,-164,-163.5,-163,-162.5,-162,-161.5,-161,-160.5,-160,-159.5], "tickSize": -4, "labels": false, "title": null, "domain": false}},
     "y": {"field": "y", "type": "quantitative", "stack": null, "scale": {"domain": [-17.2, 182.8], "nice": false, "zero": false}, "axis": null},
     "y2": {"datum": 0},
     "fill": {"field": "comp", "type": "nominal", "scale": {"domain": ["S3b","S3","S3a","S2","S1"], "range": ["#FFBFBF","#FFBFBF","#DCF8C8","#C2CEFA","#E9E5A6"]}, "legend": null},
     "stroke": {"field": "comp", "type": "nominal", "scale": {"domain": ["S3b","S3","S3a","S2","S1"], "range": ["#A40000","#A40000","#1E9A1E","#1436CC","#A8A000"]}, "legend": null}
    }},
   {"data": {"name": "p6"},
    "mark": {"type": "point", "shape": "circle", "filled": false, "size": 60, "color": "#ABABAB", "strokeWidth": 0.9, "opacity": 1},
    "encoding": {
     "x": {"field": "x", "type": "quantitative", "scale": {"domain": [-167.09, -159.094], "nice": false, "zero": false}, "axis": {"orient": "top", "values": [-167,-166,-165,-164,-163,-162,-161,-160], "tickSize": -6.5, "labels": false, "title": null, "domain": true}},
     "y": {"field": "y", "type": "quantitative", "scale": {"domain": [-17.2, 182.8], "nice": false, "zero": false}, "axis": null}
    }},
   {"data": {"name": "e6"},
    "mark": {"type": "line", "interpolate": "monotone", "color": "#262626", "strokeWidth": 1.1},
    "encoding": {
     "x": {"field": "x", "type": "quantitative", "scale": {"domain": [-167.09, -159.094], "nice": false, "zero": false}, "axis": null},
     "y": {"field": "y", "type": "quantitative", "scale": {"domain": [-17.2, 182.8], "nice": false, "zero": false}, "axis": null}
    }},
   {"data": {"name": "lab"}, "transform": [{"filter": "datum.panel === 'C6DT' && datum.comp === 'name'"}],
    "mark": {"type": "text", "fontSize": 17, "align": "left", "baseline": "middle", "color": "#000000"},
    "encoding": {
     "x": {"field": "x", "type": "quantitative", "scale": {"domain": [-167.09, -159.094], "nice": false, "zero": false}, "axis": null},
     "y": {"field": "y", "type": "quantitative", "scale": {"domain": [-17.2, 182.8], "nice": false, "zero": false}, "axis": null},
     "text": {"field": "text"}
    }}
  ]
 },
 {
  "width": 435, "height": 200,
  "resolve": {"axis": {"x": "independent"}},
  "layer": [
   {"data": {"name": "c2"}, "transform": [{"filter": "datum.comp === 'S3'"}],
    "mark": {"type": "area", "interpolate": "monotone", "strokeWidth": 1.8},
    "encoding": {
     "x": {"field": "x", "type": "quantitative", "scale": {"domain": [-167.09, -159.094], "nice": false, "zero": false}, "axis": {"orient": "bottom", "values": [-166, -164, -162, -160], "tickSize": -6.5, "labels": true, "labelPadding": 13.5, "labelFlush": false, "title": "Binding Energy (eV)", "titlePadding": 10, "domain": true}},
     "y": {"field": "y", "type": "quantitative", "stack": null, "scale": {"domain": [-17.2, 182.8], "nice": false, "zero": false}, "axis": {"orient": "left", "domain": true, "ticks": false, "labels": false, "title": null}},
     "y2": {"datum": 0},
     "fill": {"field": "comp", "type": "nominal", "scale": {"domain": ["S3b","S3","S3a","S2","S1"], "range": ["#FFBFBF","#FFBFBF","#DCF8C8","#C2CEFA","#E9E5A6"]}, "legend": null},
     "stroke": {"field": "comp", "type": "nominal", "scale": {"domain": ["S3b","S3","S3a","S2","S1"], "range": ["#A40000","#A40000","#1E9A1E","#1436CC","#A8A000"]}, "legend": null}
    }},
   {"data": {"name": "c2"}, "transform": [{"filter": "datum.comp === 'S1'"}],
    "mark": {"type": "area", "interpolate": "monotone", "strokeWidth": 1.8},
    "encoding": {
     "x": {"field": "x", "type": "quantitative", "scale": {"domain": [-167.09, -159.094], "nice": false, "zero": false}, "axis": {"orient": "bottom", "values": [-167,-166.5,-166,-165.5,-165,-164.5,-164,-163.5,-163,-162.5,-162,-161.5,-161,-160.5,-160,-159.5], "tickSize": -4, "labels": false, "title": null, "domain": false}},
     "y": {"field": "y", "type": "quantitative", "stack": null, "scale": {"domain": [-17.2, 182.8], "nice": false, "zero": false}, "axis": null},
     "y2": {"datum": 0},
     "fill": {"field": "comp", "type": "nominal", "scale": {"domain": ["S3b","S3","S3a","S2","S1"], "range": ["#FFBFBF","#FFBFBF","#DCF8C8","#C2CEFA","#E9E5A6"]}, "legend": null},
     "stroke": {"field": "comp", "type": "nominal", "scale": {"domain": ["S3b","S3","S3a","S2","S1"], "range": ["#A40000","#A40000","#1E9A1E","#1436CC","#A8A000"]}, "legend": null}
    }},
   {"data": {"name": "c2"}, "transform": [{"filter": "datum.comp === 'S2'"}],
    "mark": {"type": "area", "interpolate": "monotone", "strokeWidth": 1.8},
    "encoding": {
     "x": {"field": "x", "type": "quantitative", "scale": {"domain": [-167.09, -159.094], "nice": false, "zero": false}, "axis": {"orient": "top", "values": [-167,-166.5,-166,-165.5,-165,-164.5,-164,-163.5,-163,-162.5,-162,-161.5,-161,-160.5,-160,-159.5], "tickSize": -4, "labels": false, "title": null, "domain": false}},
     "y": {"field": "y", "type": "quantitative", "stack": null, "scale": {"domain": [-17.2, 182.8], "nice": false, "zero": false}, "axis": null},
     "y2": {"datum": 0},
     "fill": {"field": "comp", "type": "nominal", "scale": {"domain": ["S3b","S3","S3a","S2","S1"], "range": ["#FFBFBF","#FFBFBF","#DCF8C8","#C2CEFA","#E9E5A6"]}, "legend": null},
     "stroke": {"field": "comp", "type": "nominal", "scale": {"domain": ["S3b","S3","S3a","S2","S1"], "range": ["#A40000","#A40000","#1E9A1E","#1436CC","#A8A000"]}, "legend": null}
    }},
   {"data": {"name": "p2"},
    "mark": {"type": "point", "shape": "circle", "filled": false, "size": 60, "color": "#ABABAB", "strokeWidth": 0.9, "opacity": 1},
    "encoding": {
     "x": {"field": "x", "type": "quantitative", "scale": {"domain": [-167.09, -159.094], "nice": false, "zero": false}, "axis": {"orient": "top", "values": [-167,-166,-165,-164,-163,-162,-161,-160], "tickSize": -6.5, "labels": false, "title": null, "domain": true}},
     "y": {"field": "y", "type": "quantitative", "scale": {"domain": [-17.2, 182.8], "nice": false, "zero": false}, "axis": null}
    }},
   {"data": {"name": "e2"},
    "mark": {"type": "line", "interpolate": "monotone", "color": "#262626", "strokeWidth": 1.1},
    "encoding": {
     "x": {"field": "x", "type": "quantitative", "scale": {"domain": [-167.09, -159.094], "nice": false, "zero": false}, "axis": null},
     "y": {"field": "y", "type": "quantitative", "scale": {"domain": [-17.2, 182.8], "nice": false, "zero": false}, "axis": null}
    }},
   {"data": {"name": "lab"}, "transform": [{"filter": "datum.panel === 'C2DT' && datum.comp !== 'name'"}],
    "mark": {"type": "text", "fontSize": 16, "align": "center", "baseline": "middle"},
    "encoding": {
     "x": {"field": "x", "type": "quantitative", "scale": {"domain": [-167.09, -159.094], "nice": false, "zero": false}, "axis": null},
     "y": {"field": "y", "type": "quantitative", "scale": {"domain": [-17.2, 182.8], "nice": false, "zero": false}, "axis": null},
     "text": {"field": "text"},
     "color": {"field": "comp", "type": "nominal", "scale": {"domain": ["S3b","S3","S3a","S2","S1"], "range": ["#A40000","#A40000","#20A020","#1A1AE6","#A8A11E"]}, "legend": null}
    }},
   {"data": {"name": "lab"}, "transform": [{"filter": "datum.panel === 'C2DT' && datum.comp === 'name'"}],
    "mark": {"type": "text", "fontSize": 17, "align": "left", "baseline": "middle", "color": "#000000"},
    "encoding": {
     "x": {"field": "x", "type": "quantitative", "scale": {"domain": [-167.09, -159.094], "nice": false, "zero": false}, "axis": null},
     "y": {"field": "y", "type": "quantitative", "scale": {"domain": [-17.2, 182.8], "nice": false, "zero": false}, "axis": null},
     "text": {"field": "text"}
    }}
  ]
 }
]
}
